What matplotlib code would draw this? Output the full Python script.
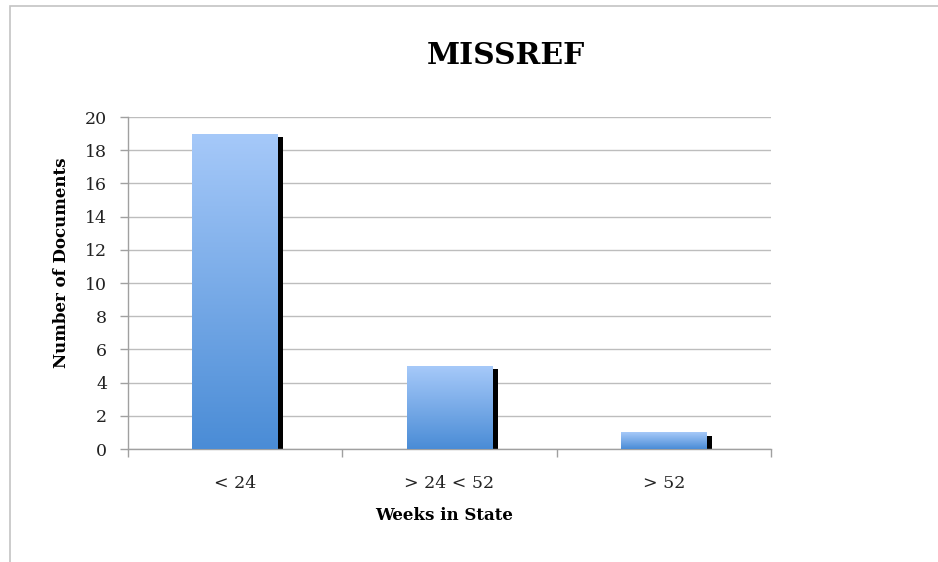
import numpy as np
import matplotlib
matplotlib.use("Agg")
import matplotlib.pyplot as plt
from matplotlib.colors import LinearSegmentedColormap
from matplotlib.patches import Rectangle

categories = ["< 24", "> 24 < 52", "> 52"]
values = [19, 5, 1]
title = "MISSREF"
xlabel = "Weeks in State"
ylabel = "Number of Documents"

serif = ["DejaVu Serif", "Liberation Serif"]
plt.rcParams['font.family'] = serif

fig = plt.figure(figsize=(9.38, 5.62), dpi=100)
# outer chart border (top and left visible)
fig.add_artist(Rectangle((9.5/938, -0.1), 1.2, 1 - 6/562 + 0.1, transform=fig.transFigure,
                         fill=False, edgecolor="#c4c4c4", linewidth=1.2))

ax = fig.add_axes([128/938, 1 - 449/562, (771 - 128)/938, (449 - 117)/562])
ax.set_xlim(0, 3)
ax.set_ylim(0, 20)
ax.set_yticks(range(0, 21, 2))
ax.grid(axis="y", color="#bdbdbd", linewidth=1.0)
ax.set_axisbelow(True)

cmap = LinearSegmentedColormap.from_list("barg", ["#4a8cd6", "#a6c9f9"])
grad = np.linspace(0, 1, 256).reshape(-1, 1)
width = 0.4
xs = np.arange(len(categories)) + 0.5
for x, v in zip(xs, values):
    # shadow
    ax.bar(x + width / 2 + 0.012, v - 0.2, width=0.024, bottom=0, color="black", zorder=2)
    bars = ax.bar(x, v, width=width, color="none", zorder=3)
    rect = bars[0]
    im = ax.imshow(grad, extent=[x - width / 2, x + width / 2, 0, v], origin="lower",
                   cmap=cmap, aspect="auto", zorder=3, vmin=0, vmax=1)
    im.set_clip_path(rect)
ax.set_xlim(0, 3)
ax.set_ylim(0, 20)

ax.set_xticks(xs)
ax.set_xticklabels(categories, fontsize=12.5, color="#222222")
ax.set_xticks([0, 1, 2, 3], minor=True)
ax.tick_params(axis="x", which="major", length=0, pad=19)
ax.tick_params(axis="x", which="minor", length=6, color="#a0a0a0", width=1)
ax.tick_params(axis="y", length=6, color="#a0a0a0", width=1, labelsize=12.5, labelcolor="#222222", pad=9)

for s in ["top", "right"]:
    ax.spines[s].set_visible(False)
for s in ["left", "bottom"]:
    ax.spines[s].set_color("#a0a0a0")
    ax.spines[s].set_linewidth(1)

ax.set_xlabel(xlabel, fontsize=12, fontweight="bold")
ax.set_ylabel(ylabel, fontsize=12, fontweight="bold")
ax.xaxis.set_label_coords((444 - 128) / 643, -(515 - 449) / 332)
ax.yaxis.set_label_coords((62 - 128) / 643, (449 - 263) / 332)
ax.xaxis.label.set_va("center")
ax.yaxis.label.set_va("center")
fig.text(506/938, 1 - 55/562, title, fontsize=21.5, fontweight="bold", ha="center", va="center")

fig.savefig("out.png", dpi=100)
